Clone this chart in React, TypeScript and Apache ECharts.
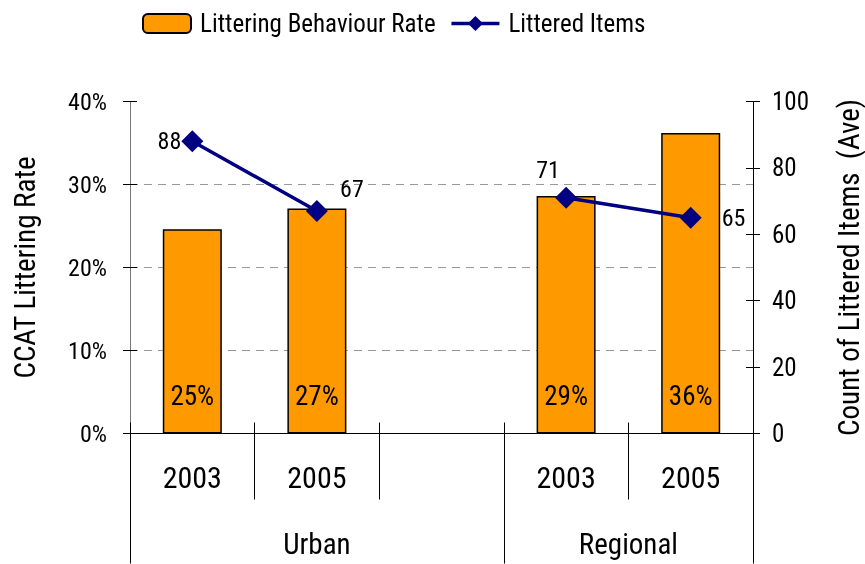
import React, { useEffect, useRef } from "react";
import * as echarts from "echarts";

const years = ["2003", "2005", "", "2003", "2005"];
const groups = ["Urban", "Regional"];
const groupSpans = [3, 2];
const rateValues = [0.246, 0.271, null, 0.286, 0.362];
const itemValues = [88, 67, null, 71, 65];
const leftTicks = [0, 0.1, 0.2, 0.3, 0.4];
const rightTicks = [0, 20, 40, 60, 80, 100];

const FONT = "'Roboto Condensed', 'DejaVu Sans Condensed', sans-serif";

export default function App() {
  const ref = useRef<HTMLDivElement>(null);
  useEffect(() => {
    if (!ref.current) return;
    const chart = echarts.init(ref.current, null, { renderer: "svg" });
    const bounds: number[] = [0];
    groupSpans.forEach((s) => bounds.push(bounds[bounds.length - 1] + s));
    const centers = groupSpans.map((s, i) => bounds[i] + s / 2);
    const labelPos: any[] = [
      { position: "left", distance: 0 },
      { position: "top", offset: [35, 6] },
      {},
      { position: "top", offset: [-18, 0] },
      { position: "right", distance: 20 },
    ];
    chart.setOption({
      animation: false,
      textStyle: { fontFamily: FONT, color: "#000" },
      legend: {
        top: 6,
        left: 137,
        itemWidth: 48,
        itemHeight: 19,
        itemGap: 14,
        textStyle: { fontSize: 25, fontFamily: FONT, color: "#000", padding: [0, 0, 0, 4] },
        data: [
          { name: "Littering Behaviour Rate" },
          {
            name: "Littered Items",
            lineStyle: { width: 3.5, color: "#000080" },
            itemStyle: { color: "#000080" },
          },
        ],
      },
      grid: { left: 130, right: 112, top: 101.5, bottom: 130.5, outerBoundsMode: "none", containLabel: false },
      xAxis: [
        {
          type: "category",
          data: years,
          position: "bottom",
          axisLine: { lineStyle: { color: "#000", width: 1 } },
          axisTick: { show: true, interval: 0, length: 66, lineStyle: { color: "#000" } },
          axisLabel: { interval: 0, fontSize: 30, margin: 29, color: "#000", fontFamily: FONT },
        },
        {
          type: "category",
          data: years,
          position: "bottom",
          axisLine: { show: false },
          axisTick: { show: true, inside: true, interval: 0, length: 11, lineStyle: { color: "#000" } },
          axisLabel: { show: false },
        },
        {
          type: "value",
          min: bounds[0],
          max: bounds[bounds.length - 1],
          position: "bottom",
          axisLine: { show: false },
          splitLine: { show: false },
          axisTick: { show: true, customValues: bounds, length: 130, lineStyle: { color: "#000" } },
          axisLabel: {
            customValues: centers,
            fontSize: 29,
            margin: 96,
            color: "#000",
            fontFamily: FONT,
            formatter: (v: number) => groups[centers.indexOf(v)] ?? "",
          },
        },
      ],
      yAxis: [
        {
          type: "value",
          min: leftTicks[0],
          max: leftTicks[leftTicks.length - 1],
          interval: 0.1,
          position: "left",
          name: "CCAT Littering Rate",
          nameLocation: "middle",
          nameGap: 91,
          nameTextStyle: { fontSize: 29, color: "#000", fontFamily: FONT },
          axisLine: { show: true, lineStyle: { color: "#777", width: 1 } },
          axisTick: { show: true, length: 7, lineStyle: { color: "#000" } },
          axisLabel: {
            fontSize: 24,
            margin: 23,
            color: "#000",
            fontFamily: FONT,
            formatter: (v: number) => Math.round(v * 100) + "%",
          },
          splitLine: {
            show: true,
            lineStyle: {
              color: ["#999", "#999", "#999", "#999", "rgba(0,0,0,0)"],
              type: [8, 6],
              width: 1,
            },
          },
        },
        {
          type: "value",
          min: rightTicks[0],
          max: rightTicks[rightTicks.length - 1],
          interval: 20,
          position: "right",
          name: "Count of Littered Items  (Ave)",
          nameLocation: "middle",
          nameGap: 81,
          nameTextStyle: { fontSize: 29, color: "#000", fontFamily: FONT },
          axisLine: { show: true, lineStyle: { color: "#000", width: 1 } },
          axisTick: { show: true, length: 7, lineStyle: { color: "#000" } },
          axisLabel: { fontSize: 25, margin: 19, color: "#000", fontFamily: FONT },
          splitLine: { show: false },
        },
        {
          type: "value",
          min: leftTicks[0],
          max: leftTicks[leftTicks.length - 1],
          interval: 0.1,
          position: "left",
          axisLine: { show: false },
          axisTick: { show: true, inside: true, length: 7, lineStyle: { color: "#000" } },
          axisLabel: { show: false },
          splitLine: { show: false },
        },
        {
          type: "value",
          min: rightTicks[0],
          max: rightTicks[rightTicks.length - 1],
          interval: 20,
          position: "right",
          axisLine: { show: false },
          axisTick: { show: true, inside: true, length: 7, lineStyle: { color: "#000" } },
          axisLabel: { show: false },
          splitLine: { show: false },
        },
      ],
      series: [
        {
          name: "Littering Behaviour Rate",
          type: "bar",
          xAxisIndex: 0,
          yAxisIndex: 0,
          data: rateValues,
          barWidth: 59,
          itemStyle: { color: "#FF9900", borderColor: "#000", borderWidth: 1.5 },
          label: {
            show: true,
            position: "insideBottom",
            distance: 24,
            fontSize: 27,
            color: "#000",
            fontFamily: FONT,
            formatter: (p: any) => Math.round(p.value * 100) + "%",
          },
          z: 2,
        },
        {
          name: "Littered Items",
          type: "line",
          xAxisIndex: 0,
          yAxisIndex: 1,
          data: itemValues.map((v, i) => ({ value: v, label: labelPos[i] })),
          connectNulls: false,
          symbol: "diamond",
          symbolSize: 22,
          lineStyle: { color: "#000080", width: 3.5 },
          itemStyle: { color: "#000080" },
          label: { show: true, fontSize: 24, color: "#000", fontFamily: FONT },
          z: 3,
        },
      ],
    });
    return () => chart.dispose();
  }, []);
  return <div ref={ref} style={{ position: "fixed", left: 0, top: 0, width: 865, height: 564 }} />;
}
